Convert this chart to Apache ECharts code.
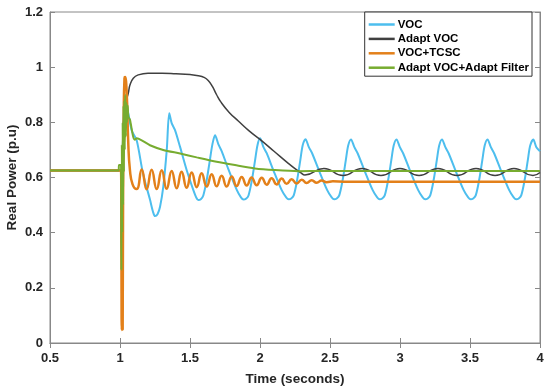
<!DOCTYPE html>
<html>
<head>
<meta charset="utf-8">
<script src="https://cdn.jsdelivr.net/npm/echarts@6/dist/echarts.min.js"></script>
<style>html,body{margin:0;padding:0;background:#fff}#c{width:550px;height:391px}</style>
</head>
<body>
<div id="c"></div>
<script>
// ---- data ----
const seriesNames = ['VOC', 'Adapt VOC', 'VOC+TCSC', 'Adapt VOC+Adapt Filter'];
const xTicks = [0.5, 1, 1.5, 2, 2.5, 3, 3.5, 4];
const yTicks = [0, 0.2, 0.4, 0.6, 0.8, 1, 1.2];

const vocT = [0.5, 1.0, 1.008, 1.012, 1.02, 1.035, 1.06, 1.084, 1.119, 1.164, 1.214, 1.235, 1.25, 1.268, 1.286, 1.309, 1.334, 1.352,
  1.369, 1.393, 1.429, 1.476, 1.524, 1.544, 1.559, 1.577, 1.595, 1.619, 1.642, 1.66, 1.679,
  1.703, 1.727, 1.774, 1.834, 1.864, 1.882, 1.9, 1.918, 1.942, 1.965, 1.982, 2.0,
  2.024, 2.048, 2.095, 2.155, 2.187, 2.205, 2.223, 2.241, 2.265, 2.288, 2.305, 2.325,
  2.349, 2.373, 2.42, 2.48, 2.512, 2.53, 2.548, 2.566, 2.59, 2.613, 2.63, 2.65,
  2.674, 2.698, 2.745, 2.805, 2.837, 2.855, 2.873, 2.891, 2.915, 2.938, 2.955, 2.975,
  2.999, 3.023, 3.07, 3.13, 3.162, 3.18, 3.198, 3.216, 3.24, 3.263, 3.28, 3.30,
  3.324, 3.348, 3.395, 3.455, 3.487, 3.505, 3.523, 3.541, 3.565, 3.588, 3.605, 3.625,
  3.649, 3.673, 3.72, 3.78, 3.812, 3.83, 3.848, 3.866, 3.89, 3.913, 3.93, 3.952,
  3.974, 4.0];
const vocV = [0.625, 0.625, 0.625, 0.3, 0.7, 0.88, 0.83, 0.77, 0.735, 0.615, 0.52, 0.477, 0.46, 0.467, 0.494, 0.566, 0.70, 0.833,
  0.797, 0.772, 0.711, 0.627, 0.554, 0.528, 0.518, 0.521, 0.535, 0.59, 0.663, 0.72, 0.753,
  0.72, 0.695, 0.63, 0.555, 0.528, 0.52, 0.523, 0.535, 0.59, 0.663, 0.717, 0.742,
  0.711, 0.688, 0.627, 0.554, 0.528, 0.521, 0.524, 0.535, 0.59, 0.663, 0.717, 0.739,
  0.71, 0.687, 0.627, 0.554, 0.528, 0.521, 0.524, 0.535, 0.59, 0.663, 0.716, 0.738,
  0.71, 0.687, 0.627, 0.554, 0.528, 0.521, 0.524, 0.535, 0.59, 0.663, 0.716, 0.738,
  0.71, 0.687, 0.627, 0.554, 0.528, 0.521, 0.524, 0.535, 0.59, 0.663, 0.716, 0.738,
  0.71, 0.687, 0.627, 0.554, 0.528, 0.521, 0.524, 0.535, 0.59, 0.663, 0.716, 0.738,
  0.71, 0.687, 0.627, 0.554, 0.528, 0.521, 0.524, 0.535, 0.59, 0.663, 0.716, 0.738,
  0.71, 0.695];

const adaptT = [0.5, 1.0, 1.008, 1.012, 1.018, 1.03, 1.045, 1.059, 1.071, 1.095, 1.13, 1.2, 1.3, 1.4, 1.5, 1.56, 1.6,
  1.63, 1.66, 1.69, 1.72, 1.78, 1.845, 1.92, 2.0, 2.1, 2.2, 2.25, 2.29, 2.321,
  2.457, 2.593, 2.729, 2.864, 3.0, 3.136, 3.271, 3.407, 3.543, 3.679, 3.814, 3.95, 4.0];
const adaptV = [0.625, 0.625, 0.625, 0.3, 0.6, 0.85, 0.88, 0.905, 0.935, 0.96, 0.972, 0.978, 0.978, 0.976, 0.973, 0.969, 0.963,
  0.952, 0.93, 0.9, 0.874, 0.836, 0.805, 0.77, 0.738, 0.695, 0.652, 0.632, 0.618, 0.609,
  0.633, 0.607, 0.633, 0.607, 0.633, 0.607, 0.633, 0.607, 0.633, 0.607, 0.633, 0.607, 0.618];

const tcscT = [0.5, 1.0, 1.007, 1.01, 1.013, 1.016, 1.019, 1.022, 1.027, 1.032, 1.036, 1.048, 1.059, 1.071, 1.09,
  1.119, 1.155, 1.19, 1.226, 1.262, 1.298, 1.333, 1.369, 1.405, 1.44, 1.476, 1.512, 1.548, 1.583, 1.619, 1.655,
  1.69, 1.726, 1.762, 1.798, 1.833, 1.869, 1.905, 1.94, 1.976, 2.012, 2.048, 2.083, 2.119, 2.155, 2.19, 2.226,
  2.262, 2.298, 2.333, 2.369, 2.405, 2.44, 2.476, 2.52, 2.6, 4.0];
const tcscV = [0.625, 0.625, 0.625, 0.35, 0.047, 0.1, 0.05, 0.5, 0.85, 0.96, 0.964, 0.906, 0.725, 0.627, 0.575,
  0.558, 0.629, 0.557, 0.628, 0.558, 0.626, 0.559, 0.624, 0.561, 0.621, 0.563, 0.618, 0.565, 0.615, 0.567, 0.612,
  0.568, 0.606, 0.567, 0.604, 0.569, 0.602, 0.571, 0.600, 0.572, 0.599, 0.574, 0.597, 0.575, 0.596, 0.577, 0.594,
  0.578, 0.592, 0.580, 0.590, 0.581, 0.589, 0.583, 0.586, 0.585, 0.585];

const filterT = [0.5, 0.99, 0.993, 1.007, 1.01, 1.013, 1.016, 1.019, 1.022, 1.025, 1.028, 1.031, 1.034, 1.038, 1.042, 1.046,
  1.05, 1.055, 1.06, 1.071, 1.093, 1.105, 1.12, 1.155, 1.214, 1.309, 1.429, 1.548, 1.69, 1.821, 1.964, 2.107, 2.274, 2.45, 4.0];
const filterV = [0.625, 0.625, 0.645, 0.645, 0.264, 0.72, 0.4, 0.8, 0.5, 0.86, 0.62, 0.88, 0.7, 0.9, 0.75, 0.87,
  0.8, 0.86, 0.82, 0.81, 0.75, 0.737, 0.742, 0.735, 0.717, 0.70, 0.687, 0.673, 0.657, 0.645, 0.633, 0.627, 0.623, 0.624, 0.624];

// ---- chart ----
const zip = (t, v) => t.map((x, i) => [x, v[i]]);
const FONT = 'Liberation Sans, Arial, sans-serif';
const colors = ['#4DBEEE', '#404040', '#E3801A', '#77AC30'];
const widths = [2, 1.5, 2.5, 2];
const smooths = [0.3, 0.5, 0.5, 0.25];
const datasets = [zip(vocT, vocV), zip(adaptT, adaptV), zip(tcscT, tcscV), zip(filterT, filterV)];

const axisCommon = {
  type: 'value',
  axisLine: { show: true, lineStyle: { color: '#888', width: 1 } },
  axisTick: { show: true, inside: true, length: 5, lineStyle: { color: '#888' } },
  splitLine: { show: false }
};

const chart = echarts.init(document.getElementById('c'), null, { renderer: 'canvas' });
chart.setOption({
  animation: false,
  backgroundColor: '#fff',
  grid: { left: 50, right: 10, top: 12, bottom: 48, containLabel: false, outerBoundsMode: 'none',
    show: true, borderColor: '#888', borderWidth: 1, backgroundColor: 'transparent' },
  legend: {
    data: seriesNames,
    orient: 'vertical',
    right: 18, top: 12,
    icon: 'rect', itemWidth: 26, itemHeight: 2.5, itemGap: 1.4,
    padding: [6, 3, 2, 4],
    backgroundColor: '#fff', borderColor: '#333', borderWidth: 1, borderRadius: 0,
    textStyle: { fontFamily: FONT, fontWeight: 'bold', fontSize: 11.5, color: '#000', lineHeight: 13, padding: [0, 0, 0, -2] },
    selectedMode: false
  },
  xAxis: [
    Object.assign({}, axisCommon, {
      min: xTicks[0], max: xTicks[xTicks.length - 1], interval: 0.5,
      name: 'Time (seconds)', nameLocation: 'middle', nameGap: 29, nameMoveOverlap: false,
      nameTextStyle: { fontFamily: FONT, fontWeight: 'bold', fontSize: 13.5, color: '#262626' },
      axisLabel: { fontFamily: FONT, fontWeight: 'bold', fontSize: 13, color: '#262626', margin: 9 }
    }),
    Object.assign({}, axisCommon, {
      position: 'top', min: xTicks[0], max: xTicks[xTicks.length - 1], interval: 0.5,
      axisLabel: { show: false }
    })
  ],
  yAxis: [
    Object.assign({}, axisCommon, {
      min: yTicks[0], max: yTicks[yTicks.length - 1], interval: 0.2,
      name: 'Real Power (p.u)', nameLocation: 'middle', nameGap: 31, nameMoveOverlap: false,
      nameTextStyle: { fontFamily: FONT, fontWeight: 'bold', fontSize: 13.5, color: '#262626' },
      axisLabel: { fontFamily: FONT, fontWeight: 'bold', fontSize: 13, color: '#262626', margin: 7 }
    }),
    Object.assign({}, axisCommon, {
      position: 'right', min: yTicks[0], max: yTicks[yTicks.length - 1], interval: 0.2,
      axisLabel: { show: false }
    })
  ],
  series: seriesNames.map((n, i) => ({
    name: n, type: 'line', xAxisIndex: 0, yAxisIndex: 0,
    data: datasets[i], showSymbol: false, symbol: 'none',
    smooth: smooths[i],
    color: colors[i],
    lineStyle: { color: colors[i], width: widths[i] },
    z: 2 + i
  }))
});
</script>
</body>
</html>
